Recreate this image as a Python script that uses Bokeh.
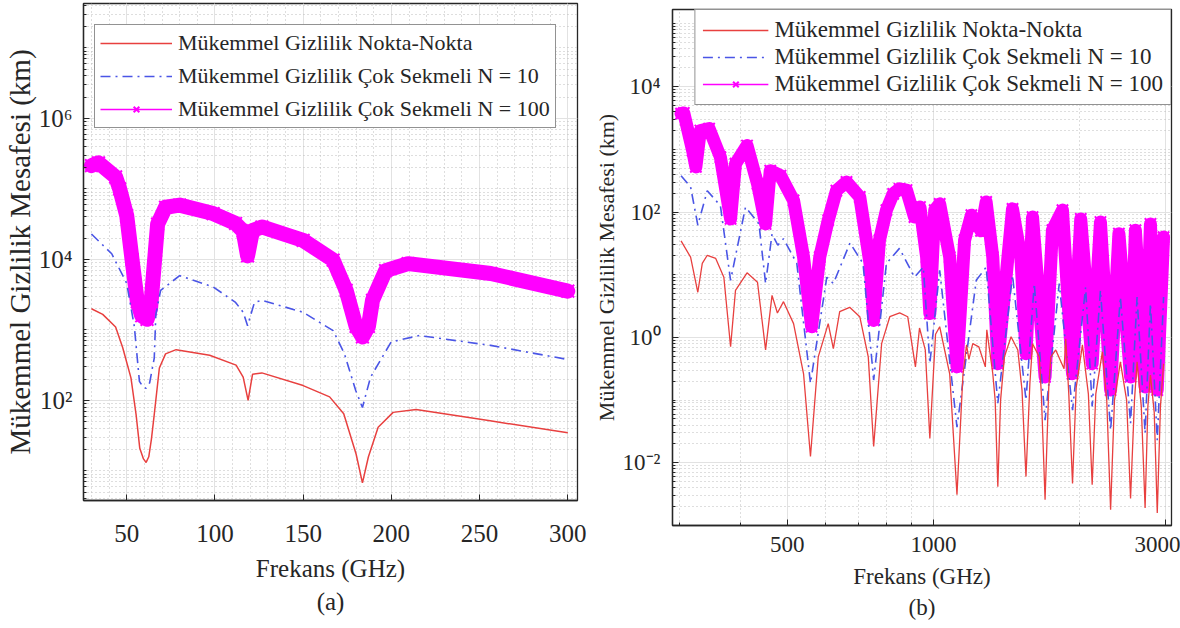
from bokeh.plotting import figure
from bokeh.layouts import row, column
from bokeh.models import (FixedTicker, CustomJSTickFormatter, Legend, LegendItem, Title,
                          Range1d)
from bokeh.embed import file_html
from bokeh.resources import INLINE

SERIF = "Liberation Serif"
INK = "#262626"
RED = "#e8403f"
BLUE = "#4a55e6"
MAGENTA = "#ff00ff"

SERIES_LABELS = ["Mükemmel Gizlilik Nokta-Nokta",
                 "Mükemmel Gizlilik Çok Sekmeli N = 10",
                 "Mükemmel Gizlilik Çok Sekmeli N = 100"]
X_LABEL = "Frekans (GHz)"
Y_LABEL = "Mükemmel Gizlilik Mesafesi (km)"

# ---- (a) 30-300 GHz; distances stored as powers of ten (log10 km) ----
a_p2p_ghz = [30, 36.4, 43.7, 47.7, 52.4, 55.3, 57.4, 59.5, 61, 62.5, 64, 65.6, 68.5, 72, 78,
             97, 112, 116, 118.8, 121.3, 126.6, 150, 165, 173, 180, 183.6, 187, 192.5, 201,
             214, 256, 300]
a_p2p_exp = [3.30, 3.22, 3.04, 2.75, 2.32, 1.80, 1.32, 1.17, 1.12, 1.20, 1.45, 1.80, 2.46, 2.66,
             2.72, 2.64, 2.50, 2.33, 2.00, 2.37, 2.39, 2.21, 2.05, 1.81, 1.24, 0.83, 1.20, 1.62,
             1.83, 1.87, 1.71, 1.54]

a_n10_ghz = [30, 41.5, 50, 54.3, 57.2, 59, 60.9, 63, 65.6, 66.5, 69.2, 80, 99, 111.7, 116,
             118.5, 122.4, 126.6, 150, 167, 173.4, 179.8, 183.6, 188.2, 199.9, 215.9, 256.3, 300]
a_n10_exp = [4.36, 4.08, 3.66, 3.05, 2.27, 2.20, 2.17, 2.25, 2.60, 3.22, 3.56, 3.77, 3.61, 3.39,
             3.25, 3.06, 3.39, 3.42, 3.25, 2.99, 2.66, 2.14, 1.90, 2.33, 2.83, 2.92, 2.78, 2.58]

a_n100_ghz = [30, 34, 43.7, 46, 50, 53, 56, 58.5, 61.5, 63.5, 65.5, 67.5, 72, 80, 99, 111.7,
              116, 118.5, 121.3, 126.6, 150, 167, 174.4, 180, 183.6, 187, 189.3, 196.7, 209.5,
              256.3, 300]
a_n100_exp = [5.33, 5.37, 5.17, 5.00, 4.62, 4.00, 3.40, 3.20, 3.15, 3.30, 3.90, 4.50, 4.74, 4.77,
              4.65, 4.51, 4.40, 4.05, 4.41, 4.46, 4.27, 3.99, 3.56, 3.05, 2.90, 3.05, 3.42, 3.84,
              3.94, 3.80, 3.55]

# ---- (b) 300-3000 GHz ----
b_p2p_ghz = [302, 316, 327, 334, 342, 356, 370, 382, 391, 413, 434, 451, 465, 477, 491, 515,
             540, 558, 579, 607, 622, 641, 672, 705, 734, 753, 782, 813, 852, 885, 918, 936,
             962, 983, 1010, 1030, 1080, 1118, 1150, 1170, 1183, 1205, 1240, 1279, 1288, 1325,
             1340, 1357, 1375, 1400, 1445, 1492, 1522, 1551, 1580, 1600, 1652, 1668, 1698,
             1728, 1745, 1786, 1858, 1873, 1900, 1934, 1968, 2027, 2085, 2123, 2160, 2228,
             2275, 2317, 2360, 2427, 2500, 2547, 2595, 2627, 2680, 2729, 2765, 2799, 2850,
             2891, 2935, 2979]
b_p2p_exp = [1.54, 1.28, 0.72, 1.18, 1.31, 1.26, 0.96, -0.15, 0.75, 1.03, 0.88, -0.20, 0.67,
             0.39, 0.57, 0.22, -0.58, -1.90, -0.31, 0.22, -0.18, 0.41, 0.48, 0.33, -0.31, -1.74,
             -0.10, 0.33, 0.39, 0.33, -0.47, 0.15, -0.20, -1.61, 0.05, 0.17, -0.58, -2.51,
             -0.60, -0.12, -0.35, -0.10, -0.15, -0.47, 0.12, -0.58, -1.00, -2.38, -1.00, -0.31,
             0.01, -0.20, -0.84, -2.22, -0.73, -0.10, -0.31, -0.90, -2.59, -0.80, -0.31, -0.20,
             -0.50, -0.02, -0.90, -2.33, -0.80, -0.12, -0.90, -2.35, -0.90, -0.23, -1.00, -2.75,
             -1.00, -0.39, -1.00, -2.57, -1.00, -0.39, -1.10, -2.72, -1.10, -0.60, -1.20, -2.80,
             -1.10, -0.42]

b_n10_ghz = [302, 316, 327, 342, 364, 382, 410, 437, 451, 465, 478, 491, 523, 558, 603, 622,
             673, 716, 753, 800, 851, 914, 953, 983, 1030, 1118, 1225, 1284, 1357, 1455, 1551,
             1613, 1698, 1816, 1934, 2058, 2123, 2208, 2317, 2427, 2547, 2627, 2729, 2799,
             2891, 2979]
b_n10_exp = [2.58, 2.40, 1.79, 2.34, 2.10, 0.91, 2.08, 1.81, 0.86, 1.65, 1.47, 1.575, 1.18,
             -0.73, 0.96, 0.86, 1.505, 1.18, -0.68, 1.18, 1.42, 0.96, 1.12, -0.415, 1.07, -1.43,
             0.91, 1.12, -1.05, 0.99, -1.00, 0.86, -1.32, 0.86, -1.16, 0.80, -1.10, 0.75, -1.48,
             0.645, -1.37, 0.645, -1.53, 0.54, -1.64, 0.645]

b_n100_ghz = [302, 306, 319, 324, 331, 345, 364, 382, 391, 413, 434, 451, 461, 484, 515, 540,
              561, 583, 607, 631, 662, 705, 740, 753, 774, 800, 826, 851, 880, 914, 938, 968,
              983, 1006, 1030, 1080, 1118, 1159, 1197, 1253, 1284, 1325, 1357, 1455, 1514, 1551,
              1600, 1698, 1758, 1844, 1934, 2011, 2123, 2208, 2317, 2410, 2547, 2606, 2729,
              2799, 2891, 2979]
b_n100_exp = [3.57, 3.58, 2.98, 2.72, 3.30, 3.33, 2.875, 1.89, 2.77, 3.06, 2.45, 1.81, 2.66,
              2.58, 2.185, 1.28, 0.17, 1.28, 1.87, 2.34, 2.48, 2.24, 1.18, 0.27, 1.55, 2.03, 2.29,
              2.37, 2.35, 1.92, 2.08, 1.28, 0.38, 2.03, 2.13, 1.28, -0.47, 1.55, 1.95, 1.70, 2.16,
              1.28, -0.42, 2.05, 1.28, -0.26, 1.92, -0.63, 1.71, 2.03, -0.58, 1.89, -0.42, 1.84,
              -0.84, 1.655, -0.63, 1.71, -0.79, 1.81, -0.84, 1.60]

A_X_TICKS = [50, 100, 150, 200, 250, 300]
A_Y_TICKS = [1e2, 1e4, 1e6]
B_X_TICKS = [500, 1000, 3000]
B_Y_TICKS = [1e-2, 1e0, 1e2, 1e4]


def km(exps):
    return [10 ** e for e in exps]


def decade_minors(lo, hi, majors):
    return [m * 10.0 ** k for k in range(lo, hi) for m in range(1, 10)
            if not any(abs(m * 10.0 ** k - t) / t < 1e-9 for t in majors)]


POWER_OF_TEN = CustomJSTickFormatter(code="""
const sup = {"-": "\u207b", "0": "\u2070", "1": "\u00b9", "2": "\u00b2", "3": "\u00b3",
             "4": "\u2074", "5": "\u2075", "6": "\u2076", "7": "\u2077", "8": "\u2078",
             "9": "\u2079"};
const e = Math.round(Math.log10(tick));
return "10" + String(e).split("").map((c) => sup[c]).join("");
""")


def style_axes(p, tick_px, xlabel_px, ylabel_px, x_standoff, y_standoff,
               xlab_standoff, ylab_standoff):
    for ax in (p.xaxis[0], p.yaxis[0]):
        ax.axis_line_color = INK
        ax.axis_line_width = 1.3
        ax.major_tick_line_color = INK
        ax.minor_tick_line_color = INK
        ax.major_tick_in = 6
        ax.major_tick_out = 0
        ax.minor_tick_in = 3
        ax.minor_tick_out = 0
        ax.major_label_text_font = SERIF
        ax.major_label_text_font_size = tick_px
        ax.major_label_text_color = INK
        ax.axis_label_text_font = SERIF
        ax.axis_label_text_font_style = "normal"
        ax.axis_label_text_color = INK
    p.xaxis.axis_label_text_font_size = xlabel_px
    p.yaxis.axis_label_text_font_size = ylabel_px
    p.xaxis.major_label_standoff = x_standoff
    p.yaxis.major_label_standoff = y_standoff
    p.xaxis.axis_label_standoff = xlab_standoff
    p.yaxis.axis_label_standoff = ylab_standoff
    p.xaxis.axis_label = X_LABEL
    p.yaxis.axis_label = Y_LABEL
    p.yaxis.formatter = POWER_OF_TEN
    p.outline_line_color = INK
    p.outline_line_width = 1.3
    for g in (p.xgrid[0], p.ygrid[0]):
        g.grid_line_color = "#e2e2e2"
        g.grid_line_width = 1
        g.minor_grid_line_color = "#bdbdbd"
        g.minor_grid_line_dash = "1 3"
        g.minor_grid_line_width = 1


def draw_series(p, x1, x2, x3, p2p, n10, n100, band_w, red_w):
    p.line(x3, km(n100), line_color=MAGENTA, line_width=band_w,
           line_join="round", line_cap="round")
    thin = p.line(x3, km(n100), line_color=MAGENTA, line_width=1.5)
    crosses = p.scatter(x3, km(n100), marker="x", size=band_w + 3, line_color=MAGENTA,
                        line_width=2)
    blue = p.line(x2, km(n10), line_color=BLUE, line_width=1.6, line_dash="10 5 2 5")
    red = p.line(x1, km(p2p), line_color=RED, line_width=red_w)
    return [LegendItem(label=SERIES_LABELS[0], renderers=[red]),
            LegendItem(label=SERIES_LABELS[1], renderers=[blue]),
            LegendItem(label=SERIES_LABELS[2], renderers=[thin, crosses])]


def legend(items, font_px, spacing, glyph_w, location, padding):
    return Legend(items=items, location=location, label_text_font=SERIF,
                  label_text_font_size=font_px, label_text_color=INK, glyph_width=glyph_w,
                  glyph_height=20, label_height=10, label_standoff=6, spacing=spacing,
                  padding=padding, margin=0, border_line_color=INK, border_line_width=1.2,
                  background_fill_color="white", background_fill_alpha=1.0)


def caption(text, size, standoff):
    return Title(text=text, align="center", text_font=SERIF, text_font_size=size,
                 text_font_style="normal", text_color=INK, standoff=standoff, offset=0)


# ---------------- panel (a) ----------------
pa = figure(width=590, height=628, y_axis_type="log", title=None,
            x_range=Range1d(25.5, 305.5), y_range=Range1d(10 ** 0.58, 10 ** 7.63),
            output_backend="svg", toolbar_location=None,
            min_border_left=81, min_border_right=13, min_border_top=3, min_border_bottom=128,
            background_fill_color="white", border_fill_color="white")
pa.xaxis.ticker = FixedTicker(ticks=A_X_TICKS, minor_ticks=list(range(30, 301, 10)))
pa.yaxis.ticker = FixedTicker(ticks=A_Y_TICKS, minor_ticks=decade_minors(0, 8, A_Y_TICKS))
style_axes(pa, "25px", "25px", "29px", 24, 11, 10, 0)
pa.xaxis.minor_tick_in = 0
a_items = draw_series(pa, a_p2p_ghz, a_n10_ghz, a_n100_ghz,
                      a_p2p_exp, a_n10_exp, a_n100_exp, 15, 1.5)
pa.add_layout(legend(a_items, "22px", 7, 72, (11, 372), 5))
pa.add_layout(caption("(a)", "25px", 3), "below")

# ---------------- panel (b) ----------------
pb = figure(width=590, height=628, x_axis_type="log", y_axis_type="log", title=None,
            x_range=Range1d(290, 3093), y_range=Range1d(10 ** -3.0, 10 ** 5.23),
            output_backend="svg", toolbar_location=None,
            min_border_left=80, min_border_right=9, min_border_top=9, min_border_bottom=103,
            background_fill_color="white", border_fill_color="white")
pb.xaxis.ticker = FixedTicker(ticks=B_X_TICKS, minor_ticks=[300, 400, 600, 700, 800, 900, 2000])
pb.yaxis.ticker = FixedTicker(ticks=B_Y_TICKS, minor_ticks=decade_minors(-3, 6, B_Y_TICKS))
style_axes(pb, "23px", "23px", "22px", 11, 12, 9, 1)
b_items = draw_series(pb, b_p2p_ghz, b_n10_ghz, b_n100_ghz,
                      b_p2p_exp, b_n10_exp, b_n100_exp, 13, 1.3)
pb.add_layout(legend(b_items, "23px", 1, 66, "top_right", 7))
pb.add_layout(caption("(b)", "23px", 2), "below")

# each panel sits in its own column so the two frames keep their own borders
page = row(column(pa), column(pb))
open("out.html", "w").write(file_html(page, INLINE))
